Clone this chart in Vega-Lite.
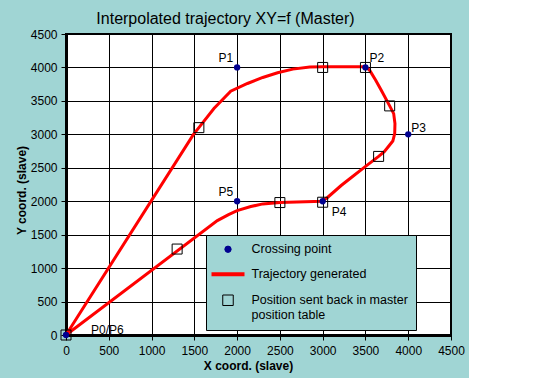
{
  "$schema": "https://vega.github.io/schema/vega-lite/v6.json",
  "width": 385,
  "height": 301,
  "autosize": {"type": "none"},
  "padding": {"left": 66, "top": 34, "right": 18, "bottom": 43},
  "background": "#a0d5d4",
  "title": {
    "text": "Interpolated trajectory XY=f (Master)",
    "font": "Liberation Sans",
    "fontSize": 16,
    "fontWeight": "normal",
    "color": "black",
    "anchor": "middle",
    "frame": "group",
    "dx": -33,
    "offset": 1
  },
  "datasets": {
    "traj": [
      {"seq": 0, "x": 0, "y": 0},
      {"seq": 1, "x": 1490, "y": 3000},
      {"seq": 2, "x": 1553, "y": 3100},
      {"seq": 3, "x": 1729, "y": 3385},
      {"seq": 4, "x": 1925, "y": 3645},
      {"seq": 5, "x": 2121, "y": 3760},
      {"seq": 6, "x": 2300, "y": 3850},
      {"seq": 7, "x": 2473, "y": 3920},
      {"seq": 8, "x": 2650, "y": 3975},
      {"seq": 9, "x": 2850, "y": 4005},
      {"seq": 10, "x": 3000, "y": 4010},
      {"seq": 11, "x": 3500, "y": 4010},
      {"seq": 12, "x": 3548, "y": 3960},
      {"seq": 13, "x": 3620, "y": 3810},
      {"seq": 14, "x": 3685, "y": 3660},
      {"seq": 15, "x": 3783, "y": 3425},
      {"seq": 16, "x": 3830, "y": 3310},
      {"seq": 17, "x": 3845, "y": 3160},
      {"seq": 18, "x": 3842, "y": 3010},
      {"seq": 19, "x": 3820, "y": 2900},
      {"seq": 20, "x": 3783, "y": 2840},
      {"seq": 21, "x": 3720, "y": 2740},
      {"seq": 22, "x": 3654, "y": 2670},
      {"seq": 23, "x": 3490, "y": 2510},
      {"seq": 24, "x": 3350, "y": 2370},
      {"seq": 25, "x": 3216, "y": 2235},
      {"seq": 26, "x": 3060, "y": 2060},
      {"seq": 27, "x": 2993, "y": 2000},
      {"seq": 28, "x": 2500, "y": 1980},
      {"seq": 29, "x": 2300, "y": 1960},
      {"seq": 30, "x": 2160, "y": 1920},
      {"seq": 31, "x": 2000, "y": 1860},
      {"seq": 32, "x": 1900, "y": 1800},
      {"seq": 33, "x": 1769, "y": 1710},
      {"seq": 34, "x": 0, "y": 0}
    ],
    "sent": [
      {"x": 0, "y": 0},
      {"x": 1553, "y": 3100},
      {"x": 3000, "y": 4000},
      {"x": 3500, "y": 4000},
      {"x": 3783, "y": 3425},
      {"x": 3654, "y": 2670},
      {"x": 3000, "y": 1985},
      {"x": 2500, "y": 1980},
      {"x": 1299, "y": 1285}
    ],
    "pts": [
      {"label": "P0/P6", "x": 0, "y": 0},
      {"label": "P1", "x": 2000, "y": 4000},
      {"label": "P2", "x": 3500, "y": 4000},
      {"label": "P3", "x": 4000, "y": 3000},
      {"label": "P4", "x": 3000, "y": 2000},
      {"label": "P5", "x": 2000, "y": 2000}
    ]
  },
  "encoding": {
    "x": {
      "field": "x",
      "type": "quantitative",
      "scale": {"domain": [0, 4500], "nice": false, "zero": false},
      "axis": {
        "values": [0, 500, 1000, 1500, 2000, 2500, 3000, 3500, 4000, 4500],
        "format": "d",
        "title": "X coord. (slave)",
        "labelFlush": false,
        "labelPadding": 5,
        "titleX": 182,
        "titleY": 34,
        "titleBaseline": "alphabetic",
        "titleAlign": "center"
      }
    },
    "y": {
      "field": "y",
      "type": "quantitative",
      "scale": {"domain": [0, 4500], "nice": false, "zero": false},
      "axis": {
        "values": [0, 500, 1000, 1500, 2000, 2500, 3000, 3500, 4000, 4500],
        "format": "d",
        "title": "Y coord. (slave)",
        "labelPadding": 4,
        "titleX": -45,
        "titleY": 156,
        "titleAngle": 270,
        "titleBaseline": "middle",
        "titleAlign": "center"
      }
    }
  },
  "layer": [
    {
      "data": {"name": "traj"},
      "mark": {"type": "line", "strokeWidth": 3, "interpolate": "linear"},
      "encoding": {
        "order": {"field": "seq", "type": "quantitative"},
        "color": {
          "datum": "Trajectory generated",
          "scale": {
            "domain": ["Crossing point", "Trajectory generated", "Position sent back in master position table"],
            "range": ["#000090", "#ff0000", "#000000"]
          },
          "legend": {
            "title": null,
            "orient": "none",
            "legendX": 140,
            "legendY": 201,
            "fillColor": "#a0d5d4",
            "strokeColor": "black",
            "padding": 8,
            "symbolSize": 100,
            "labelFont": "Liberation Sans",
            "labelFontSize": 12.5,
            "labelColor": "black",
            "labelOffset": 25,
            "rowPadding": 10,
            "labelLimit": 400,
            "labelExpr": "datum.label === 'Position sent back in master position table' ? ['Position sent back in master\u00a0\u00a0\u00a0\u00a0\u00a0\u00a0\u00a0', 'position table'] : datum.label",
            "encode": {
              "symbols": {
                "update": {
                  "x": {"value": 14},
                  "shape": {"signal": "datum.value === 'Trajectory generated' ? 'stroke' : datum.value === 'Crossing point' ? 'circle' : 'square'"},
                  "size": {"signal": "datum.value === 'Trajectory generated' ? 1089 : datum.value === 'Crossing point' ? 40 : 110"},
                  "fill": {"signal": "datum.value === 'Crossing point' ? '#000090' : '#a0d5d4'"},
                  "fillOpacity": {"signal": "datum.value === 'Crossing point' ? 1 : 0"},
                  "stroke": {"signal": "datum.value === 'Trajectory generated' ? '#ff0000' : datum.value === 'Crossing point' ? '#000090' : '#000000'"},
                  "strokeWidth": {"signal": "datum.value === 'Trajectory generated' ? 4 : 1"},
                  "opacity": {"value": 1}
                }
              }
            }
          }
        }
      }
    },
    {
      "data": {"name": "sent"},
      "mark": {"type": "point", "shape": "square", "filled": false, "size": 100, "strokeWidth": 1, "opacity": 1},
      "encoding": {"color": {"datum": "Position sent back in master position table"}}
    },
    {
      "data": {"name": "pts"},
      "mark": {"type": "point", "shape": "circle", "filled": true, "size": 40, "opacity": 1},
      "encoding": {"color": {"datum": "Crossing point"}}
    },
    {
      "data": {"name": "pts"},
      "transform": [{"filter": {"field": "label", "oneOf": ["P1", "P5"]}}],
      "mark": {"type": "text", "align": "right", "baseline": "alphabetic", "dx": -4, "dy": -5, "font": "Liberation Sans", "fontSize": 12, "color": "black"},
      "encoding": {"text": {"field": "label"}}
    },
    {
      "data": {"name": "pts"},
      "transform": [{"filter": {"field": "label", "oneOf": ["P2"]}}],
      "mark": {"type": "text", "align": "left", "baseline": "alphabetic", "dx": 4, "dy": -5, "font": "Liberation Sans", "fontSize": 12, "color": "black"},
      "encoding": {"text": {"field": "label"}}
    },
    {
      "data": {"name": "pts"},
      "transform": [{"filter": {"field": "label", "oneOf": ["P3"]}}],
      "mark": {"type": "text", "align": "left", "baseline": "alphabetic", "dx": 3, "dy": -2, "font": "Liberation Sans", "fontSize": 12, "color": "black"},
      "encoding": {"text": {"field": "label"}}
    },
    {
      "data": {"name": "pts"},
      "transform": [{"filter": {"field": "label", "oneOf": ["P4"]}}],
      "mark": {"type": "text", "align": "left", "baseline": "alphabetic", "dx": 9, "dy": 15, "font": "Liberation Sans", "fontSize": 12, "color": "black"},
      "encoding": {"text": {"field": "label"}}
    },
    {
      "data": {"name": "pts"},
      "transform": [{"filter": {"field": "label", "oneOf": ["P0/P6"]}}],
      "mark": {"type": "text", "align": "left", "baseline": "alphabetic", "dx": 25, "dy": -1, "font": "Liberation Sans", "fontSize": 12, "color": "black"},
      "encoding": {"text": {"field": "label"}}
    }
  ],
  "config": {
    "font": "Liberation Sans",
    "view": {"stroke": "black", "strokeWidth": 2, "fill": "white"},
    "axis": {
      "domainColor": "black",
      "domainWidth": 3,
      "tickColor": "black",
      "tickSize": 5,
      "tickWidth": 1,
      "gridColor": "black",
      "gridWidth": 1,
      "gridOpacity": 1,
      "labelFont": "Liberation Sans",
      "labelFontSize": 12,
      "labelColor": "black",
      "titleFont": "Liberation Sans",
      "titleFontSize": 12,
      "titleFontWeight": "bold",
      "titleColor": "black"
    }
  }
}
